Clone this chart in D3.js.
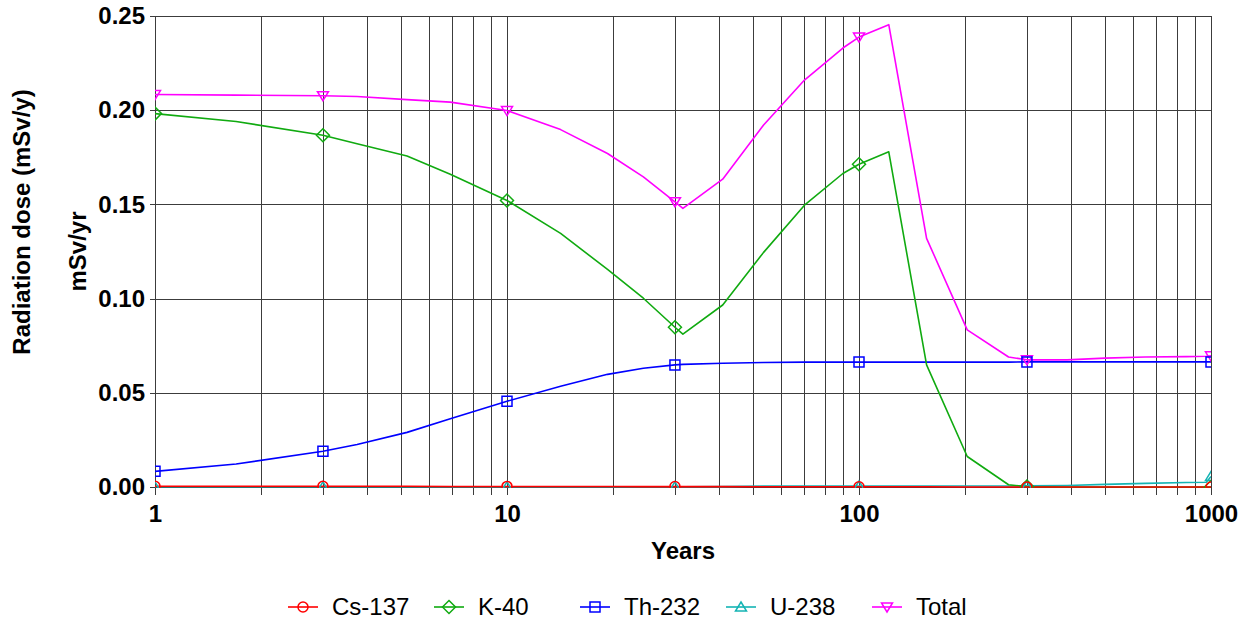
<!DOCTYPE html>
<html>
<head>
<meta charset="utf-8">
<script src="https://cdn.jsdelivr.net/npm/d3@7"></script>
<style>
    body { margin: 0; background: #fff; }
    svg { display: block; font-family: "Liberation Sans", Arial, sans-serif; }
</style>
</head>
<body>
<svg id="chart" width="1250" height="626"></svg>
<script>

// ##################################################
// #                                                #
// #  Data                                          #
// #                                                #
// ##################################################

const years = [1, 1.7, 3, 3.75, 5.2, 6.9, 10, 14.2, 19.3, 24.4, 30, 31.6, 41, 53.5, 70, 90,
    100, 121.5, 155.6, 203, 266, 300, 390, 500, 650, 850, 970, 1000];

const cs137 = [0.0004, 0.0004, 0.0004, 0.0004, 0.0004, 0.0003, 0.0003, 0.0003, 0.0003, 0.0002, 0.0002, 0.0002, 0.0002, 0.0001,
    0.0001, 0.0001, 0.0001, 0.0001, 0.0001, 0, 0, 0, 0, 0, 0, 0, 0, 0];

const k40 = [0.1982, 0.1940, 0.1867, 0.1822, 0.1757, 0.1660, 0.1521, 0.1346, 0.1155, 0.1002, 0.0848, 0.0811, 0.0966, 0.1244,
    0.1496, 0.1664, 0.1713, 0.1779, 0.0648, 0.0162, 0.0012, 0.0002, 0, 0, 0, 0, 0, 0];

const th232 = [0.0083, 0.0122, 0.0190, 0.0226, 0.0290, 0.0362, 0.0455, 0.0535, 0.0598, 0.0630, 0.0648, 0.0651, 0.0657, 0.0661,
    0.0663, 0.0663, 0.0663, 0.0663, 0.0663, 0.0663, 0.0663, 0.0664, 0.0664, 0.0664, 0.0664, 0.0664, 0.0664, 0.0664];

const u238 = [0.0001, 0.0001, 0.0001, 0.0001, 0.0001, 0.0001, 0.0001, 0.0001, 0.0001, 0.0001, 0.0001, 0.0001, 0.0002, 0.0005,
    0.0005, 0.0005, 0.0005, 0.0005, 0.0005, 0.0005, 0.0005, 0.0006, 0.0008, 0.0014, 0.0019, 0.0024, 0.0025, 0.0056];

const total = [0.2083, 0.2080, 0.2077, 0.2073, 0.2056, 0.2043, 0.1998, 0.1897, 0.1770, 0.1646, 0.1514, 0.1479, 0.1634, 0.1920,
    0.2160, 0.2330, 0.2388, 0.2454, 0.1320, 0.0834, 0.0690, 0.0675, 0.0675, 0.0684, 0.0690, 0.0692, 0.0694, 0.0696];

const markerYears = [1, 3, 10, 30, 100, 300, 1000];
const seriesNames = ['Cs-137', 'K-40', 'Th-232', 'U-238', 'Total'];
const seriesValues = [cs137, k40, th232, u238, total];
const yTicks = [0, 0.05, 0.10, 0.15, 0.20, 0.25];
const xLabels = [1, 10, 100, 1000];

// ##################################################
// #                                                #
// #  Style                                         #
// #                                                #
// ##################################################

const colors = {
    'Cs-137': '#ff0000',
    'K-40': '#10aa10',
    'Th-232': '#0000ff',
    'U-238': '#14b4b4',
    'Total': '#ff00ff'
};

const shapes = {
    'Cs-137': 'circle',
    'K-40': 'diamond',
    'Th-232': 'square',
    'U-238': 'up',
    'Total': 'down'
};

const gridColor = '#3c3c3c';

function markerPath(shape) {
    switch (shape) {
        case 'circle': return 'M5,0A5,5 0 1,1 -5,0A5,5 0 1,1 5,0Z';
        case 'diamond': return 'M0,-6.5L6.5,0L0,6.5L-6.5,0Z';
        case 'square': return 'M-5,-5H5V5H-5Z';
        case 'up': return 'M0,-5L5.5,4L-5.5,4Z';
        case 'down': return 'M0,5L5.5,-4L-5.5,-4Z';
    }
}

// ##################################################
// #                                                #
// #  Chart                                         #
// #                                                #
// ##################################################

const plotLeft = 155, plotRight = 1211, plotTop = 16, plotBottom = 487;

const x = d3.scaleLog().domain([1, 1000]).range([plotLeft, plotRight]);
const y = d3.scaleLinear().domain([0, 0.25]).range([plotBottom, plotTop]);

const svg = d3.select('#chart');

svg.append('defs').append('clipPath')
    .attr('id', 'plot-clip')
    .append('rect')
    .attr('x', plotLeft)
    .attr('y', plotTop)
    .attr('width', plotRight - plotLeft)
    .attr('height', plotBottom - plotTop + 1);

// grid years: 1..9 for each decade, then 1000
let gridYears = [];
for (const decade of [1, 10, 100]) {
    for (let k = 1; k <= 9; k++) {
        gridYears.push(decade * k);
    }
}
gridYears.push(1000);

const snap = v => Math.round(v) + 0.5;

let gridGroup = svg.append('g')
    .attr('class', 'grid')
    .attr('shape-rendering', 'crispEdges')
    .attr('stroke', gridColor)
    .attr('stroke-width', 1);

gridGroup.selectAll('.vgrid')
    .data(gridYears)
    .enter()
    .append('line')
    .attr('class', 'vgrid')
    .attr('x1', d => snap(x(d)))
    .attr('x2', d => snap(x(d)))
    .attr('y1', plotTop)
    .attr('y2', plotBottom);

gridGroup.selectAll('.hgrid')
    .data(yTicks.filter(d => d > 0))
    .enter()
    .append('line')
    .attr('class', 'hgrid')
    .attr('x1', plotLeft)
    .attr('x2', plotRight)
    .attr('y1', d => snap(y(d)))
    .attr('y2', d => snap(y(d)));

// axes
let xAxis = d3.axisBottom(x)
    .tickValues(gridYears)
    .tickSize(8)
    .tickSizeOuter(0)
    .tickPadding(10)
    .tickFormat(d => xLabels.includes(d) ? d3.format('d')(d) : '');

let yAxis = d3.axisLeft(y)
    .tickValues(yTicks)
    .tickSize(5)
    .tickSizeOuter(0)
    .tickPadding(5)
    .tickFormat(d3.format('.2f'));

let xAxisGroup = svg.append('g')
    .attr('class', 'x-axis')
    .attr('transform', `translate(0,${plotBottom})`)
    .call(xAxis);

let yAxisGroup = svg.append('g')
    .attr('class', 'y-axis')
    .attr('transform', `translate(${plotLeft},0)`)
    .call(yAxis);

for (const g of [xAxisGroup, yAxisGroup]) {
    g.attr('shape-rendering', 'crispEdges');
    g.selectAll('path, line').attr('stroke', gridColor);
    g.selectAll('text')
        .attr('fill', '#000')
        .style('font-family', '"Liberation Sans", Arial, sans-serif')
        .style('font-size', '24px')
        .style('font-weight', 'bold');
}

// titles
svg.append('text')
    .attr('x', (plotLeft + plotRight) / 2)
    .attr('y', 559)
    .attr('text-anchor', 'middle')
    .style('font-size', '24px')
    .style('font-weight', 'bold')
    .text('Years');

svg.append('text')
    .attr('transform', 'translate(30,222) rotate(-90)')
    .attr('text-anchor', 'middle')
    .style('font-size', '24px')
    .style('font-weight', 'bold')
    .text('Radiation dose (mSv/y)');

svg.append('text')
    .attr('transform', `translate(86,${(plotTop + plotBottom) / 2}) rotate(-90)`)
    .attr('text-anchor', 'middle')
    .style('font-size', '24px')
    .style('font-weight', 'bold')
    .text('mSv/yr');

// series
const series = seriesNames.map((name, i) => ({
    name,
    points: years.map((yr, j) => ({ year: yr, value: seriesValues[i][j] }))
}));

const drawOrder = ['Total', 'U-238', 'Th-232', 'K-40', 'Cs-137'];
const ordered = drawOrder.map(n => series.find(s => s.name === n));

const line = d3.line()
    .x(d => x(d.year))
    .y(d => y(d.value));

let plotGroup = svg.append('g')
    .attr('class', 'plot')
    .attr('clip-path', 'url(#plot-clip)');

plotGroup.selectAll('.series-line')
    .data(ordered)
    .enter()
    .append('path')
    .attr('class', 'series-line')
    .attr('d', d => line(d.points))
    .attr('fill', 'none')
    .attr('stroke', d => colors[d.name])
    .attr('stroke-width', 1.6)
    .attr('stroke-linejoin', 'round');

let markerGroup = plotGroup.selectAll('.markers')
    .data(ordered)
    .enter()
    .append('g')
    .attr('class', 'markers');

markerGroup.selectAll('path')
    .data(s => s.points
        .filter(p => markerYears.includes(p.year))
        .map(p => Object.assign({ name: s.name }, p)))
    .enter()
    .append('path')
    .attr('transform', d => `translate(${x(d.year)},${y(d.value)})`)
    .attr('d', d => markerPath(shapes[d.name]))
    .attr('fill', 'none')
    .attr('stroke', d => colors[d.name])
    .attr('stroke-width', 1.5);

// legend
const legendY = 607;
let legendItem = svg.append('g')
    .attr('class', 'legend')
    .selectAll('.item')
    .data(seriesNames)
    .enter()
    .append('g')
    .attr('class', 'item')
    .attr('transform', (d, i) => `translate(${288 + i * 146},${legendY})`);

legendItem.append('line')
    .attr('x1', 0)
    .attr('x2', 30)
    .attr('y1', 0)
    .attr('y2', 0)
    .attr('stroke', d => colors[d])
    .attr('stroke-width', 1.6);

legendItem.append('path')
    .attr('transform', 'translate(15,0)')
    .attr('d', d => markerPath(shapes[d]))
    .attr('fill', 'none')
    .attr('stroke', d => colors[d])
    .attr('stroke-width', 1.5);

legendItem.append('text')
    .attr('x', 44)
    .attr('y', 0)
    .attr('dy', '0.35em')
    .style('font-size', '24px')
    .text(d => d);

</script>
</body>
</html>
